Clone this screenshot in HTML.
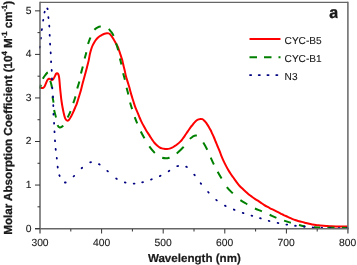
<!DOCTYPE html>
<html><head><meta charset="utf-8"><style>
html,body{margin:0;padding:0;background:#fff;}
body{width:357px;height:265px;overflow:hidden;position:relative;}
svg{position:absolute;left:0;top:0;will-change:transform;}
text{font-family:"Liberation Sans",sans-serif;fill:#1a1a1a;text-rendering:geometricPrecision;}
</style></head><body>
<svg width="357" height="265" viewBox="0 0 357 265">
<g fill="none" stroke-linejoin="round">
<path d="M40.30,88.10 C40.73,88.08 42.22,88.22 42.90,88.00 C43.58,87.78 43.92,87.53 44.40,86.80 C44.88,86.07 45.32,84.68 45.80,83.60 C46.28,82.52 46.80,81.10 47.30,80.30 C47.80,79.50 48.30,79.00 48.80,78.80 C49.30,78.60 49.82,78.90 50.30,79.10 C50.78,79.30 51.22,79.97 51.70,80.00 C52.18,80.03 52.70,79.87 53.20,79.30 C53.70,78.73 54.23,77.50 54.70,76.60 C55.17,75.70 55.62,74.47 56.00,73.90 C56.38,73.33 56.63,73.18 57.00,73.20 C57.37,73.22 57.87,73.43 58.20,74.00 C58.53,74.57 58.78,75.43 59.00,76.60 C59.22,77.77 59.33,79.27 59.50,81.00 C59.67,82.73 59.82,85.00 60.00,87.00 C60.18,89.00 60.38,90.92 60.60,93.00 C60.82,95.08 61.02,97.33 61.30,99.50 C61.58,101.67 61.92,103.82 62.30,106.00 C62.68,108.18 63.15,110.63 63.60,112.60 C64.05,114.57 64.45,116.48 65.00,117.80 C65.55,119.12 66.27,120.13 66.90,120.50 C67.53,120.87 68.15,120.58 68.80,120.00 C69.45,119.42 70.08,118.28 70.80,117.00 C71.52,115.72 72.37,113.88 73.10,112.30 C73.83,110.72 74.57,109.00 75.20,107.50 C75.83,106.00 76.30,105.02 76.90,103.30 C77.50,101.58 78.17,99.25 78.80,97.20 C79.43,95.15 80.10,93.17 80.70,91.00 C81.30,88.83 81.83,86.37 82.40,84.20 C82.97,82.03 83.60,79.83 84.10,78.00 C84.60,76.17 84.92,75.00 85.40,73.20 C85.88,71.40 86.45,69.33 87.00,67.20 C87.55,65.07 88.22,62.60 88.70,60.40 C89.18,58.20 89.42,56.07 89.90,54.00 C90.38,51.93 91.10,49.52 91.60,48.00 C92.10,46.48 92.42,45.92 92.90,44.90 C93.38,43.88 93.97,42.78 94.50,41.90 C95.03,41.02 95.55,40.28 96.10,39.60 C96.65,38.92 97.22,38.35 97.80,37.80 C98.38,37.25 98.90,36.80 99.60,36.30 C100.30,35.80 101.18,35.23 102.00,34.80 C102.82,34.37 103.68,33.97 104.50,33.70 C105.32,33.43 106.22,33.25 106.90,33.20 C107.58,33.15 108.07,33.22 108.60,33.40 C109.13,33.58 109.60,33.83 110.10,34.30 C110.60,34.77 111.10,35.52 111.60,36.20 C112.10,36.88 112.60,37.58 113.10,38.40 C113.60,39.22 114.08,40.20 114.60,41.10 C115.12,42.00 115.70,42.90 116.20,43.80 C116.70,44.70 117.17,45.53 117.60,46.50 C118.03,47.47 118.40,48.48 118.80,49.60 C119.20,50.72 119.60,51.98 120.00,53.20 C120.40,54.42 120.82,55.72 121.20,56.90 C121.58,58.08 122.00,59.18 122.30,60.30 C122.60,61.42 122.73,62.45 123.00,63.60 C123.27,64.75 123.60,65.98 123.90,67.20 C124.20,68.42 124.47,69.43 124.80,70.90 C125.13,72.37 125.53,74.52 125.90,76.00 C126.27,77.48 126.62,78.53 127.00,79.80 C127.38,81.07 127.80,82.30 128.20,83.60 C128.60,84.90 129.02,86.23 129.40,87.60 C129.78,88.97 130.13,90.47 130.50,91.80 C130.87,93.13 131.22,94.32 131.60,95.60 C131.98,96.88 132.40,98.20 132.80,99.50 C133.20,100.80 133.62,102.22 134.00,103.40 C134.38,104.58 134.70,105.53 135.10,106.60 C135.50,107.67 135.95,108.70 136.40,109.80 C136.85,110.90 137.32,112.03 137.80,113.20 C138.28,114.37 138.80,115.62 139.30,116.80 C139.80,117.98 140.28,119.17 140.80,120.30 C141.32,121.43 141.80,122.45 142.40,123.60 C143.00,124.75 143.72,125.98 144.40,127.20 C145.08,128.42 145.72,129.62 146.50,130.90 C147.28,132.18 148.42,133.83 149.10,134.90 C149.78,135.97 150.03,136.42 150.60,137.30 C151.17,138.18 151.83,139.25 152.50,140.20 C153.17,141.15 153.83,142.12 154.60,143.00 C155.37,143.88 156.28,144.78 157.10,145.50 C157.92,146.22 158.70,146.82 159.50,147.30 C160.30,147.78 161.05,148.13 161.90,148.40 C162.75,148.67 163.73,148.78 164.60,148.90 C165.47,149.02 166.25,149.15 167.10,149.10 C167.95,149.05 168.87,148.83 169.70,148.60 C170.53,148.37 171.30,148.10 172.10,147.70 C172.90,147.30 173.63,146.78 174.50,146.20 C175.37,145.62 176.33,144.97 177.30,144.20 C178.27,143.43 179.43,142.47 180.30,141.60 C181.17,140.73 181.78,139.92 182.50,139.00 C183.22,138.08 183.90,137.10 184.60,136.10 C185.30,135.10 185.98,134.07 186.70,133.00 C187.42,131.93 188.20,130.72 188.90,129.70 C189.60,128.68 190.25,127.75 190.90,126.90 C191.55,126.05 192.18,125.37 192.80,124.60 C193.42,123.83 193.98,122.98 194.60,122.30 C195.22,121.62 195.83,120.98 196.50,120.50 C197.17,120.02 197.92,119.67 198.60,119.40 C199.28,119.13 199.97,118.93 200.60,118.90 C201.23,118.87 201.87,118.98 202.40,119.20 C202.93,119.42 203.30,119.75 203.80,120.20 C204.30,120.65 204.83,121.20 205.40,121.90 C205.97,122.60 206.60,123.50 207.20,124.40 C207.80,125.30 208.42,126.32 209.00,127.30 C209.58,128.28 210.17,129.25 210.70,130.30 C211.23,131.35 211.65,132.40 212.20,133.60 C212.75,134.80 213.43,136.18 214.00,137.50 C214.57,138.82 215.05,140.15 215.60,141.50 C216.15,142.85 216.73,144.25 217.30,145.60 C217.87,146.95 218.47,148.28 219.00,149.60 C219.53,150.92 220.00,152.20 220.50,153.50 C221.00,154.80 221.43,156.05 222.00,157.40 C222.57,158.75 223.25,160.23 223.90,161.60 C224.55,162.97 225.22,164.28 225.90,165.60 C226.58,166.92 227.23,168.18 228.00,169.50 C228.77,170.82 229.68,172.25 230.50,173.50 C231.32,174.75 232.15,175.93 232.90,177.00 C233.65,178.07 234.28,178.92 235.00,179.90 C235.72,180.88 236.38,181.85 237.20,182.90 C238.02,183.95 238.95,185.17 239.90,186.20 C240.85,187.23 241.88,188.15 242.90,189.10 C243.92,190.05 245.02,191.02 246.00,191.90 C246.98,192.78 247.82,193.60 248.80,194.40 C249.78,195.20 250.88,195.97 251.90,196.70 C252.92,197.43 253.90,198.13 254.90,198.80 C255.90,199.47 256.88,200.03 257.90,200.70 C258.92,201.37 259.98,202.12 261.00,202.80 C262.02,203.48 262.98,204.15 264.00,204.80 C265.02,205.45 266.08,206.12 267.10,206.70 C268.12,207.28 268.78,207.65 270.10,208.30 C271.42,208.95 273.68,209.95 275.00,210.60 C276.32,211.25 276.98,211.67 278.00,212.20 C279.02,212.73 280.08,213.28 281.10,213.80 C282.12,214.32 282.98,214.80 284.10,215.30 C285.22,215.80 286.48,216.22 287.80,216.80 C289.12,217.38 290.78,218.27 292.00,218.80 C293.22,219.33 294.08,219.63 295.10,220.00 C296.12,220.37 296.98,220.68 298.10,221.00 C299.22,221.32 300.48,221.57 301.80,221.90 C303.12,222.23 304.78,222.68 306.00,223.00 C307.22,223.32 308.08,223.57 309.10,223.80 C310.12,224.03 310.98,224.20 312.10,224.40 C313.22,224.60 314.48,224.83 315.80,225.00 C317.12,225.17 318.28,225.25 320.00,225.40 C321.72,225.55 324.18,225.75 326.10,225.90 C328.02,226.05 329.85,226.20 331.50,226.30 C333.15,226.40 334.23,226.45 336.00,226.50 C337.77,226.55 340.18,226.60 342.10,226.60 C344.02,226.60 346.60,226.52 347.50,226.50" stroke="#ff0000" stroke-width="2"/>
<path d="M40.00,88.60 C40.12,88.08 40.45,86.52 40.70,85.50 C40.95,84.48 41.13,83.63 41.50,82.50 C41.87,81.37 42.32,79.87 42.90,78.70 C43.48,77.53 44.32,76.45 45.00,75.50 C45.68,74.55 46.53,73.53 47.00,73.00 C47.47,72.47 47.55,72.43 47.80,72.30 C48.05,72.17 48.27,72.00 48.50,72.20 C48.73,72.40 48.98,72.78 49.20,73.50 C49.42,74.22 49.62,75.30 49.80,76.50 C49.98,77.70 50.07,79.45 50.30,80.70 C50.53,81.95 50.92,82.78 51.20,84.00 C51.48,85.22 51.78,85.97 52.00,88.00 C52.22,90.03 52.25,93.78 52.50,96.20 C52.75,98.62 53.23,100.22 53.50,102.50 C53.77,104.78 53.68,107.42 54.10,109.90 C54.52,112.38 55.47,114.97 56.00,117.40 C56.53,119.83 56.68,122.83 57.30,124.50 C57.92,126.17 58.73,127.18 59.70,127.40 C60.67,127.62 62.13,126.70 63.10,125.80 C64.07,124.90 64.77,123.33 65.50,122.00 C66.23,120.67 66.67,119.58 67.50,117.80 C68.33,116.02 69.55,113.72 70.50,111.30 C71.45,108.88 72.37,105.75 73.20,103.30 C74.03,100.85 74.83,99.02 75.50,96.60 C76.17,94.18 76.57,91.27 77.20,88.80 C77.83,86.33 78.68,84.30 79.30,81.80 C79.92,79.30 80.33,76.27 80.90,73.80 C81.47,71.33 82.08,69.52 82.70,67.00 C83.32,64.48 84.00,61.12 84.60,58.70 C85.20,56.28 85.73,54.90 86.30,52.50 C86.87,50.10 87.33,46.75 88.00,44.30 C88.67,41.85 89.63,39.60 90.30,37.80 C90.97,36.00 91.35,34.82 92.00,33.50 C92.65,32.18 93.32,30.88 94.20,29.90 C95.08,28.92 96.25,28.17 97.30,27.60 C98.35,27.03 99.30,26.60 100.50,26.50 C101.70,26.40 103.18,26.62 104.50,27.00 C105.82,27.38 107.33,28.05 108.40,28.80 C109.47,29.55 110.05,30.37 110.90,31.50 C111.75,32.63 112.67,33.70 113.50,35.60 C114.33,37.50 115.20,40.75 115.90,42.90 C116.60,45.05 117.07,46.07 117.70,48.50 C118.33,50.93 119.10,54.92 119.70,57.50 C120.30,60.08 120.75,61.50 121.30,64.00 C121.85,66.50 122.42,69.93 123.00,72.50 C123.58,75.07 124.22,76.93 124.80,79.40 C125.38,81.87 125.93,84.85 126.50,87.30 C127.07,89.75 127.62,91.65 128.20,94.10 C128.78,96.55 129.37,99.55 130.00,102.00 C130.63,104.45 131.23,106.35 132.00,108.80 C132.77,111.25 133.75,114.32 134.60,116.70 C135.45,119.08 136.10,120.68 137.10,123.10 C138.10,125.52 139.40,128.72 140.60,131.20 C141.80,133.68 142.88,135.53 144.30,138.00 C145.72,140.47 147.40,143.55 149.10,146.00 C150.80,148.45 153.02,151.05 154.50,152.70 C155.98,154.35 156.78,155.07 158.00,155.90 C159.22,156.73 160.50,157.30 161.80,157.70 C163.10,158.10 164.57,158.30 165.80,158.30 C167.03,158.30 168.03,158.08 169.20,157.70 C170.37,157.32 171.58,156.68 172.80,156.00 C174.02,155.32 175.30,154.52 176.50,153.60 C177.70,152.68 178.87,151.57 180.00,150.50 C181.13,149.43 182.22,148.53 183.30,147.20 C184.38,145.87 185.47,143.83 186.50,142.50 C187.53,141.17 188.50,140.15 189.50,139.20 C190.50,138.25 191.42,137.40 192.50,136.80 C193.58,136.20 194.83,135.48 196.00,135.60 C197.17,135.72 198.35,136.43 199.50,137.50 C200.65,138.57 201.65,140.05 202.90,142.00 C204.15,143.95 205.73,146.68 207.00,149.20 C208.27,151.72 209.40,154.65 210.50,157.10 C211.60,159.55 212.45,161.53 213.60,163.90 C214.75,166.27 216.12,168.93 217.40,171.30 C218.68,173.67 219.78,175.55 221.30,178.10 C222.82,180.65 224.65,184.12 226.50,186.60 C228.35,189.08 230.17,190.80 232.40,193.00 C234.63,195.20 237.50,197.97 239.90,199.80 C242.30,201.63 244.40,202.60 246.80,204.00 C249.20,205.40 251.87,207.00 254.30,208.20 C256.73,209.40 258.93,210.15 261.40,211.20 C263.87,212.25 266.68,213.43 269.10,214.50 C271.52,215.57 273.50,216.62 275.90,217.60 C278.30,218.58 281.08,219.57 283.50,220.40 C285.92,221.23 287.92,221.87 290.40,222.60 C292.88,223.33 296.00,224.18 298.40,224.80 C300.80,225.42 302.12,225.88 304.80,226.30 C307.48,226.72 311.97,227.10 314.50,227.30 C317.03,227.50 316.75,227.42 320.00,227.50 C323.25,227.58 329.42,227.73 334.00,227.80 C338.58,227.87 345.25,227.88 347.50,227.90" stroke="#008000" stroke-width="2" stroke-dasharray="3.89 6.45 8.11 9.55 7.51 8.22 6.38 7.43 7.74 7.66 7.35 9.27 7.06 8.44 7.09 7.98 7.31 8.16 7.30 8.25 6.43 8.38 6.90 8.86 7.29 8.36 8.57 7.69 7.40 8.22 6.44 8.67 6.87 8.08 7.01 8.10 7.09 8.32 6.87 8.83 7.74 9.33 8.61 8.98 7.53 8.25 9.67 9.98 7.96 9.59 8.20 8.50 7.61 8.19 7.84 9.97 8.71 10.13 8.09 8.73 7.57 8.38 7.47 8.10 7.24 8.30 6.58 8.49 6.31 7.22 7.25 7.37 6.13 50.00"/>
<path d="M39.86,47.50L39.94,46.70M40.85,38.60L40.95,37.80M41.85,30.00L41.95,29.20M43.14,20.60L43.26,19.80M44.46,12.47L44.74,11.73M47.27,8.47L47.73,9.13M48.36,17.20L48.44,18.00M49.27,25.70L49.33,26.50M49.68,34.90L49.72,35.70M50.08,43.70L50.12,44.50M50.68,52.50L50.72,53.30M51.08,61.30L51.12,62.10M51.68,70.00L51.72,70.80M51.99,78.50L52.01,79.30M52.28,87.60L52.32,88.40M52.98,96.50L53.02,97.30M53.29,105.20L53.31,106.00M53.48,113.80L53.52,114.60M54.08,122.80L54.12,123.60M54.48,131.40L54.52,132.20M54.97,140.40L55.03,141.20M55.66,149.00L55.74,149.80M56.76,157.80L56.84,158.60M57.64,166.70L57.76,167.50M59.32,175.24L59.68,175.96M64.90,182.49L65.70,182.51M73.60,176.36L74.20,175.84M81.59,168.26L82.21,167.74M90.21,162.28L90.99,162.12M98.95,164.11L99.65,164.49M107.29,170.84L107.91,171.36M116.16,178.48L116.84,178.92M124.81,182.39L125.59,182.61M133.70,183.60L134.50,183.60M142.21,182.39L142.99,182.21M151.02,179.54L151.78,179.26M159.84,176.07L160.56,175.73M168.65,171.20L169.35,170.80M177.31,166.19L178.09,166.01M186.15,166.61L186.85,166.99M194.24,174.60L194.76,175.20M200.65,183.29L201.15,183.91M208.13,192.01L208.67,192.59M216.19,199.85L216.81,200.35M224.95,205.61L225.65,205.99M233.83,209.55L234.57,209.85M242.72,212.87L243.48,213.13M251.52,215.58L252.28,215.82M260.02,218.18L260.78,218.42M268.71,220.80L269.49,221.00M277.61,222.92L278.39,223.08M286.41,224.54L287.19,224.66M295.10,225.75L295.90,225.85M303.90,226.66L304.70,226.74M312.70,227.47L313.50,227.53M321.40,227.89L322.20,227.91M329.80,228.09L330.60,228.11M338.60,228.20L339.40,228.20M346.90,228.10L347.70,228.10" stroke="#000080" stroke-width="1.8" stroke-linecap="round"/>
</g>
<g fill="none">
<path d="M40,2.4H348" stroke="#666" stroke-width="1.4"/>
<path d="M40,1.8V233.5M347.9,1.8V233.5" stroke="#666" stroke-width="1.5"/>
<path d="M35,228.7H348.6" stroke="#666" stroke-width="1.5"/>
<path d="M101.60,229V233.5M163.20,229V233.5M224.80,229V233.5M286.40,229V233.5M70.80,229V231.5M132.40,229V231.5M194.00,229V231.5M255.60,229V231.5M317.20,229V231.5M35,228.60H40M35,185.05H40M35,141.50H40M35,97.95H40M35,54.40H40M35,10.85H40M37.5,206.82H40M37.5,163.28H40M37.5,119.72H40M37.5,76.18H40M37.5,32.62H40" stroke="#333" stroke-width="1"/>
</g>
<g font-size="10.3" stroke="#1a1a1a" stroke-width="0.12"><text x="31.6" y="231.50" text-anchor="end">0</text><text x="31.6" y="187.95" text-anchor="end">1</text><text x="31.6" y="144.40" text-anchor="end">2</text><text x="31.6" y="100.85" text-anchor="end">3</text><text x="31.6" y="57.30" text-anchor="end">4</text><text x="31.6" y="13.75" text-anchor="end">5</text><text x="40.00" y="245.5" text-anchor="middle">300</text><text x="101.53" y="245.5" text-anchor="middle">400</text><text x="163.06" y="245.5" text-anchor="middle">500</text><text x="224.59" y="245.5" text-anchor="middle">600</text><text x="286.12" y="245.5" text-anchor="middle">700</text><text x="347.65" y="245.5" text-anchor="middle">800</text></g>
<text x="194.4" y="261.8" font-size="11.6" font-weight="bold" text-anchor="middle" stroke="#1a1a1a" stroke-width="0.2">Wavelength (nm)</text>
<text transform="translate(11.6,234.8) rotate(-90)" font-size="11.65" font-weight="bold" stroke="#1a1a1a" stroke-width="0.3">Molar Absorption Coefficient (10<tspan font-size="7.6" dy="-5">4</tspan><tspan dy="5"> M</tspan><tspan font-size="7.6" dy="-5">-1</tspan><tspan dy="5"> cm</tspan><tspan font-size="7.6" dy="-5">-1</tspan><tspan dy="5">)</tspan></text>
<clipPath id="ca"><rect x="320" y="0" width="17.6" height="30"/></clipPath><text x="329.3" y="17.5" font-size="16.4" font-weight="bold" stroke="#1a1a1a" stroke-width="0.4" clip-path="url(#ca)">a</text>
<g fill="none">
<path d="M249.5,39H280.5" stroke="#ff0000" stroke-width="2"/>
<path d="M249.5,57.3H280.5" stroke="#008000" stroke-width="2" stroke-dasharray="7.5 7"/>
<path d="M250,75.1h1.2M258.7,75.1h1.2M267.4,75.1h1.2M276.2,75.1h1.2" stroke="#000080" stroke-width="1.8" stroke-linecap="round"/>
</g>
<g font-size="10.1" stroke="#1a1a1a" stroke-width="0.12">
<text x="284.6" y="43.5">CYC-B5</text>
<text x="284.6" y="61.5">CYC-B1</text>
<text x="284.6" y="79.5">N3</text>
</g>
</svg>
</body></html>
